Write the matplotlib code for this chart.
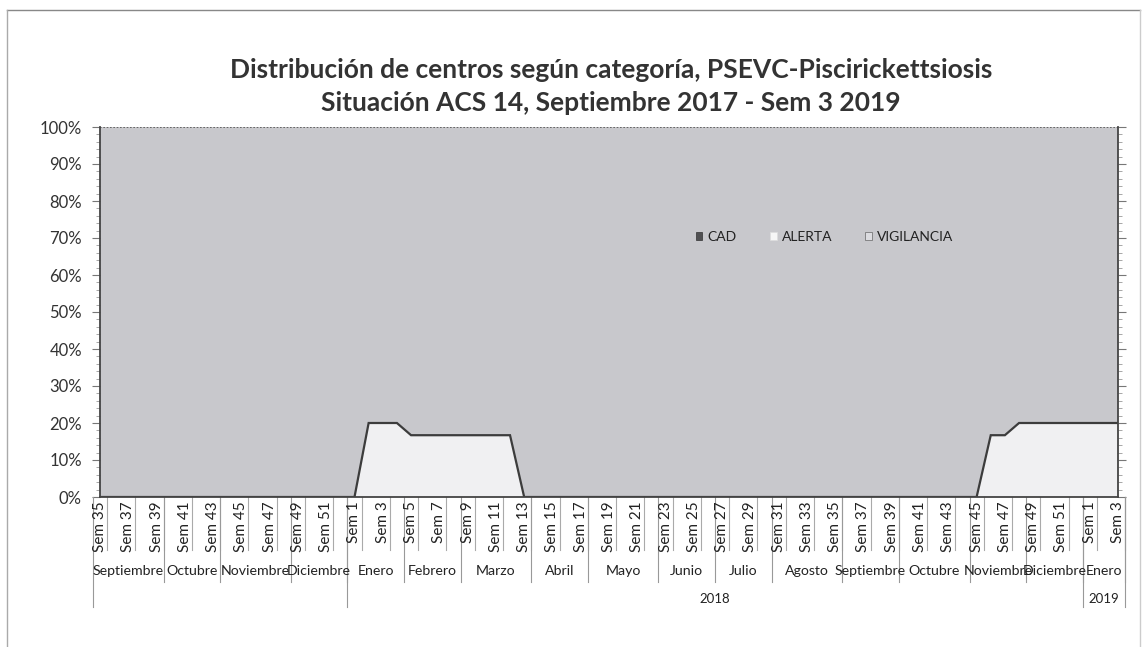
import matplotlib
matplotlib.use("Agg")
import matplotlib.pyplot as plt
from matplotlib.patches import Patch
from matplotlib.lines import Line2D
from matplotlib.ticker import MultipleLocator, PercentFormatter

plt.rcParams['font.family'] = ['Lato', 'DejaVu Sans']

# Categories: epidemiological weeks
semanas_2017 = list(range(35, 53))
semanas_2018 = list(range(1, 53))
semanas_2019 = [1, 2, 3]
semanas = semanas_2017 + semanas_2018 + semanas_2019

# month groups (label, number of weeks)
meses = [('Septiembre', 5), ('Octubre', 4), ('Noviembre', 5), ('Diciembre', 4),
         ('Enero', 4), ('Febrero', 4), ('Marzo', 5), ('Abril', 4), ('Mayo', 5),
         ('Junio', 4), ('Julio', 4), ('Agosto', 5), ('Septiembre', 4),
         ('Octubre', 5), ('Noviembre', 4), ('Diciembre', 4), ('Enero', 3)]
anios = [('', 18), ('2018', 52), ('2019', 3)]

# series values, % of centres
cad = [0] * 73
alerta = [0] * 19 + [20] * 3 + [16.7] * 8 + [0] * 33 + [16.7] * 2 + [20] * 8
vigilancia = [100] * 19 + [80] * 3 + [83.3] * 8 + [100] * 33 + [83.3] * 2 + [80] * 8

C_CAD = '#505052'
C_ALERTA = '#f0f0f2'
C_VIG = '#c8c8cc'
W, H = 1143, 647

fig = plt.figure(figsize=(W / 100, H / 100), dpi=100)
ax = fig.add_axes([100 / W, 1 - 497 / H, (1118 - 100) / W, (497 - 127) / H])

x = list(range(len(semanas)))
ax.stackplot(x, cad, alerta, vigilancia, colors=[C_CAD, C_ALERTA, C_VIG], lw=0)
top_alerta = [c + a for c, a in zip(cad, alerta)]
ax.plot(x, top_alerta, color='#3c3c3c', lw=1.6, solid_joinstyle='miter')
ax.axhline(100, color='#555555', lw=1.2, ls=(0, (1, 1)))

ax.set_xlim(0, len(x) - 1)
ax.set_ylim(0, 100)
ax.set_facecolor(C_VIG)
ax.yaxis.set_major_locator(MultipleLocator(10))
ax.yaxis.set_minor_locator(MultipleLocator(2))
ax.yaxis.set_major_formatter(PercentFormatter(decimals=0))
ax.tick_params(axis='y', which='major', length=6, color='#777777', labelsize=12,
               labelcolor='#333333', right=True, pad=7)
ax.tick_params(axis='y', which='minor', length=3, color='#999999', right=True)
ax.set_xticks([])
for s in ['left', 'right', 'bottom']:
    ax.spines[s].set_color('#444444')
    ax.spines[s].set_linewidth(1.3)
ax.spines['top'].set_visible(False)

# multi-level category axis, drawn in axes-x / pixel-y coordinates
trans = ax.get_xaxis_transform()
def fy(py):
    return (497 - py) / (497 - 127)

for i, w in enumerate(semanas):
    if i % 2 == 0:
        ax.text(i, fy(501), 'Sem %d' % w, rotation=90, ha='center', va='top',
                fontsize=11, color='#222222', transform=trans, clip_on=False)
        ax.plot([i + 0.5, i + 0.5], [0, fy(550)], color='#aaaaaa', lw=0.8,
                transform=trans, clip_on=False)

start = 0
for nombre, n in meses:
    ax.text(start - 0.5 + n / 2, fy(571), nombre, ha='center', va='center',
            fontsize=10.2, color='#222222', transform=trans, clip_on=False)
    start += n
    ax.plot([start - 0.5, start - 0.5], [0, fy(582)], color='#999999', lw=0.8,
            transform=trans, clip_on=False)

start = 0
ax.plot([-0.5, -0.5], [0, fy(607)], color='#999999', lw=0.8, transform=trans, clip_on=False)
for nombre, n in anios:
    ax.text(start - 0.5 + n / 2, fy(599), nombre, ha='center', va='center',
            fontsize=9.5, color='#222222', transform=trans, clip_on=False)
    start += n
    ax.plot([start - 0.5, start - 0.5], [0, fy(607)], color='#999999', lw=0.8,
            transform=trans, clip_on=False)

# titles
fig.text(611 / W, 1 - 70 / H, 'Distribución de centros según categoría, PSEVC-Piscirickettsiosis',
         ha='center', va='center', fontsize=19, fontweight='bold', color='#333333')
fig.text(611 / W, 1 - 103 / H, 'Situación ACS 14, Septiembre 2017 - Sem 3 2019',
         ha='center', va='center', fontsize=19, fontweight='bold', color='#333333')

# legend
handles = [Patch(facecolor=C_CAD, edgecolor='#333333', lw=0.5),
           Patch(facecolor='#f6f6f6', edgecolor='#dddddd', lw=0.5),
           Patch(facecolor='#dcdce0', edgecolor='#666666', lw=0.5)]
fig.legend(handles, ['CAD', 'ALERTA', 'VIGILANCIA'], loc='center left',
           bbox_to_anchor=(683 / W, 1 - 237 / H), ncol=3, frameon=False,
           handlelength=0.5, handleheight=0.5, handletextpad=0.35,
           columnspacing=2.4, fontsize=10, labelcolor='#222222')

# outer frame of the chart
fig.add_artist(Line2D([7 / W, 1140 / W], [1 - 10 / H, 1 - 10 / H], color='#888888', lw=1))
fig.add_artist(Line2D([7 / W, 7 / W], [0, 1 - 10 / H], color='#aaaaaa', lw=1))
fig.add_artist(Line2D([1140 / W, 1140 / W], [0, 1 - 10 / H], color='#cccccc', lw=1))

fig.savefig('out.png', dpi=100)
